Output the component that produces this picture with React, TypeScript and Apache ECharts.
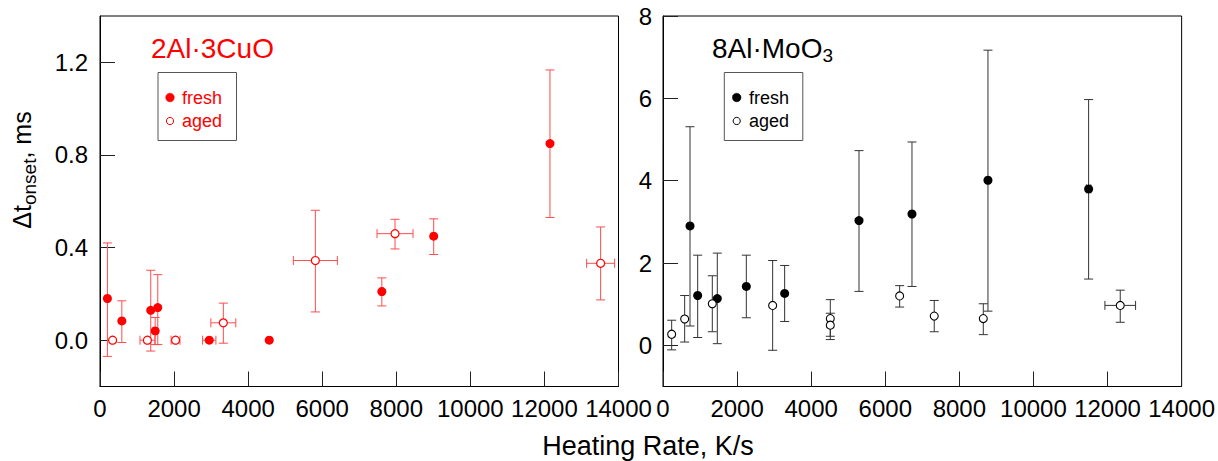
import React, { useEffect, useRef } from 'react';
import * as echarts from 'echarts';

// ---------- tick labels ----------
const rateTicks = [0, 2000, 4000, 6000, 8000, 10000, 12000, 14000];
const cuoTicks = [0, 0.4, 0.8, 1.2];
const mooTicks = [0, 2, 4, 6, 8];

// ---------- 2Al·3CuO, fresh ----------
const cuoFreshRate = [200, 590, 1370, 1560, 1490, 2950, 4570, 7610, 9010, 12150];
const cuoFreshDt = [0.18, 0.083, 0.129, 0.141, 0.04, 0, 0, 0.21, 0.449, 0.849];
const cuoFreshLow = [-0.07, -0.01, -0.047, -0.019, -0.019, 0, 0, 0.148, 0.37, 0.53];
const cuoFreshHigh = [0.42, 0.17, 0.302, 0.283, 0.098, 0, 0, 0.269, 0.524, 1.167];
const cuoFreshRateErr = [0, 0, 0, 0, 0, 180, 0, 40, 0, 0];

// ---------- 2Al·3CuO, aged ----------
const cuoAgedRate = [340, 1280, 2040, 3330, 5815, 7966, 13517];
const cuoAgedDt = [0, 0, 0, 0.075, 0.344, 0.46, 0.332];
const cuoAgedLow = [0, 0, 0, -0.013, 0.122, 0.394, 0.174];
const cuoAgedHigh = [0, 0, 0, 0.16, 0.561, 0.522, 0.489];
const cuoAgedRateErr = [0, 200, 120, 337, 594, 486, 378];

// ---------- 8Al·MoO3, fresh ----------
const mooFreshRate = [729, 936, 1466, 2249, 3284, 5291, 6721, 8772, 11489];
const mooFreshDt = [2.9, 1.21, 1.135, 1.43, 1.26, 3.03, 3.19, 4.01, 3.8];
const mooFreshLow = [0.47, 0.19, 0.04, 0.67, 0.58, 1.31, 1.43, 0.83, 1.61];
const mooFreshHigh = [5.31, 2.19, 2.24, 2.19, 1.94, 4.73, 4.94, 7.17, 5.97];
const mooFreshRateErr = [0, 0, 0, 0, 0, 0, 0, 0, 60];

// ---------- 8Al·MoO3, aged ----------
const mooAgedRate = [234, 585, 1331, 2960, 4516, 4516, 6388, 7322, 8646, 12343];
const mooAgedDt = [0.27, 0.64, 1.01, 0.97, 0.65, 0.49, 1.2, 0.71, 0.65, 0.97];
const mooAgedLow = [-0.11, 0.08, 0.33, -0.12, 0.14, 0.22, 0.93, 0.33, 0.26, 0.56];
const mooAgedHigh = [0.61, 1.21, 1.69, 2.06, 1.11, 0.78, 1.45, 1.09, 1.01, 1.34];
const mooAgedRateErr = [0, 0, 0, 0, 0, 0, 0, 0, 0, 414];

const FONT = "'Liberation Sans', Arial, Helvetica, sans-serif";
const RED = '#ff0000';
const RED_BAR = '#ff4d4d';
const BLACK = '#000000';
const BLACK_BAR = '#333333';

function rows(rate: number[], dt: number[], lo: number[], hi: number[], xe: number[]) {
  return rate.map((r, i) => [r, dt[i], lo[i], hi[i], xe[i]]);
}

function errorRenderer(color: string) {
  return (params: any, api: any) => {
    const x = api.value(0);
    const y = api.value(1);
    const lo = api.value(2);
    const hi = api.value(3);
    const xe = api.value(4);
    const c = api.coord([x, y]);
    const cap = 4.5;
    const style = { stroke: color, lineWidth: 1, fill: null };
    const children: any[] = [];
    if (hi > lo) {
      const pLo = api.coord([x, lo]);
      const pHi = api.coord([x, hi]);
      children.push({ type: 'line', shape: { x1: c[0], y1: pLo[1], x2: c[0], y2: pHi[1] }, style });
      children.push({ type: 'line', shape: { x1: c[0] - cap, y1: pLo[1], x2: c[0] + cap, y2: pLo[1] }, style });
      children.push({ type: 'line', shape: { x1: c[0] - cap, y1: pHi[1], x2: c[0] + cap, y2: pHi[1] }, style });
    }
    if (xe > 0) {
      const pL = api.coord([x - xe, y]);
      const pR = api.coord([x + xe, y]);
      children.push({ type: 'line', shape: { x1: pL[0], y1: c[1], x2: pR[0], y2: c[1] }, style });
      children.push({ type: 'line', shape: { x1: pL[0], y1: c[1] - cap, x2: pL[0], y2: c[1] + cap }, style });
      children.push({ type: 'line', shape: { x1: pR[0], y1: c[1] - cap, x2: pR[0], y2: c[1] + cap }, style });
    }
    return { type: 'group', children };
  };
}

function xAxisFor(gridIndex: number) {
  return {
    type: 'value',
    gridIndex,
    min: rateTicks[0],
    max: rateTicks[rateTicks.length - 1],
    interval: rateTicks[1] - rateTicks[0],
    axisLine: { show: true, onZero: false, lineStyle: { color: BLACK, width: 1 } },
    axisTick: { show: true, inside: true, length: 15, lineStyle: { color: '#222', width: 1 } },
    axisLabel: {
      show: true, margin: 10, fontSize: 24, color: BLACK, fontFamily: FONT,
      showMinLabel: true, showMaxLabel: true, hideOverlap: false,
      formatter: (v: number) => String(Math.round(v)),
    },
    splitLine: { show: false },
  };
}

function yAxisFor(gridIndex: number, min: number, max: number, ticks: number[], digits: number, margin: number) {
  return {
    type: 'value',
    gridIndex,
    min,
    max,
    axisLine: { show: true, onZero: false, lineStyle: { color: BLACK, width: 1 } },
    axisTick: { show: true, inside: true, length: 15, customValues: ticks, lineStyle: { color: '#222', width: 1 } },
    axisLabel: {
      show: true,
      margin,
      fontSize: 24,
      color: BLACK,
      fontFamily: FONT,
      customValues: ticks,
      formatter: (v: number) => v.toFixed(digits),
    },
    splitLine: { show: false },
  };
}

function legendBox(x: number, color: string, markerX: number, textX: number) {
  return [
    { type: 'rect', shape: { x: x, y: 72.5, width: 78.5, height: 68 }, style: { fill: '#fff', stroke: '#555', lineWidth: 1 }, z: 10 },
    { type: 'circle', shape: { cx: markerX, cy: 97.5, r: 4.3 }, style: { fill: color, stroke: color, lineWidth: 0.5 }, z: 11 },
    { type: 'circle', shape: { cx: markerX, cy: 121, r: 3.6 }, style: { fill: '#fff', stroke: color, lineWidth: 1 }, z: 11 },
    { type: 'text', x: textX, y: 97.5, style: { text: 'fresh', fill: color, font: `18px ${FONT}`, align: 'left', verticalAlign: 'middle' }, z: 11 },
    { type: 'text', x: textX, y: 121, style: { text: 'aged', fill: color, font: `18px ${FONT}`, align: 'left', verticalAlign: 'middle' }, z: 11 },
  ];
}

export default function App() {
  const ref = useRef<HTMLDivElement>(null);

  useEffect(() => {
    if (!ref.current) return;
    const chart = echarts.init(ref.current, null, { renderer: 'svg' });

    const option: any = {
      animation: false,
      backgroundColor: '#ffffff',
      textStyle: { fontFamily: FONT },
      grid: [
        { left: 100, top: 16, width: 518.5, height: 370.5, show: true, borderColor: BLACK, borderWidth: 1, backgroundColor: 'transparent' },
        { left: 663, top: 16, width: 518.7, height: 370.5, show: true, borderColor: BLACK, borderWidth: 1, backgroundColor: 'transparent' },
      ],
      xAxis: [xAxisFor(0), xAxisFor(1)],
      yAxis: [
        yAxisFor(0, -0.2, 1.4, cuoTicks, 1, 12),
        yAxisFor(1, -1, 8, mooTicks, 0, 11),
      ],
      series: [
        {
          type: 'custom', name: 'cuo-fresh-err', xAxisIndex: 0, yAxisIndex: 0, z: 2,
          renderItem: errorRenderer(RED_BAR), encode: { x: 0, y: 1 },
          data: rows(cuoFreshRate, cuoFreshDt, cuoFreshLow, cuoFreshHigh, cuoFreshRateErr),
        },
        {
          type: 'custom', name: 'cuo-aged-err', xAxisIndex: 0, yAxisIndex: 0, z: 2,
          renderItem: errorRenderer(RED_BAR), encode: { x: 0, y: 1 },
          data: rows(cuoAgedRate, cuoAgedDt, cuoAgedLow, cuoAgedHigh, cuoAgedRateErr),
        },
        {
          type: 'custom', name: 'moo-fresh-err', xAxisIndex: 1, yAxisIndex: 1, z: 2,
          renderItem: errorRenderer(BLACK_BAR), encode: { x: 0, y: 1 },
          data: rows(mooFreshRate, mooFreshDt, mooFreshLow, mooFreshHigh, mooFreshRateErr),
        },
        {
          type: 'custom', name: 'moo-aged-err', xAxisIndex: 1, yAxisIndex: 1, z: 2,
          renderItem: errorRenderer(BLACK_BAR), encode: { x: 0, y: 1 },
          data: rows(mooAgedRate, mooAgedDt, mooAgedLow, mooAgedHigh, mooAgedRateErr),
        },
        {
          type: 'scatter', name: 'fresh', xAxisIndex: 0, yAxisIndex: 0, z: 3,
          symbol: 'circle', symbolSize: 9,
          itemStyle: { color: RED, opacity: 1 },
          data: cuoFreshRate.map((r, i) => [r, cuoFreshDt[i]]),
        },
        {
          type: 'scatter', name: 'aged', xAxisIndex: 0, yAxisIndex: 0, z: 3,
          symbol: 'circle', symbolSize: 8,
          itemStyle: { color: '#ffffff', borderColor: RED, borderWidth: 1.2, opacity: 1 },
          data: cuoAgedRate.map((r, i) => [r, cuoAgedDt[i]]),
        },
        {
          type: 'scatter', name: 'fresh MoO3', xAxisIndex: 1, yAxisIndex: 1, z: 3,
          symbol: 'circle', symbolSize: 9,
          itemStyle: { color: BLACK, opacity: 1 },
          data: mooFreshRate.map((r, i) => [r, mooFreshDt[i]]),
        },
        {
          type: 'scatter', name: 'aged MoO3', xAxisIndex: 1, yAxisIndex: 1, z: 3,
          symbol: 'circle', symbolSize: 8,
          itemStyle: { color: '#ffffff', borderColor: BLACK, borderWidth: 1.1, opacity: 1 },
          data: mooAgedRate.map((r, i) => [r, mooAgedDt[i]]),
        },
      ],
      graphic: [
        // panel titles
        {
          type: 'text', x: 151, y: 48, z: 10,
          style: { text: '2Al·3CuO', fill: RED, font: `28px ${FONT}`, align: 'left', verticalAlign: 'middle' },
        },
        {
          type: 'text', x: 712, y: 48, z: 10,
          style: {
            text: '{m|8Al·MoO}{s|3}',
            fill: BLACK,
            align: 'left',
            verticalAlign: 'middle',
            rich: {
              m: { fontSize: 28, fontFamily: FONT, color: BLACK, lineHeight: 34, verticalAlign: 'middle' },
              s: { fontSize: 19, fontFamily: FONT, color: BLACK, lineHeight: 14, verticalAlign: 'bottom' },
            },
          },
        },
        ...legendBox(158, RED, 170, 182),
        ...legendBox(724.3, BLACK, 736.7, 749),
        // axis titles
        {
          type: 'text', x: 648, y: 446, z: 10,
          style: { text: 'Heating Rate, K/s', fill: BLACK, font: `27px ${FONT}`, align: 'center', verticalAlign: 'middle' },
        },
        {
          type: 'text', x: 22, y: 170, rotation: Math.PI / 2, z: 10,
          style: {
            text: '{m|Δt}{s|onset}{m|, ms}',
            fill: BLACK,
            align: 'center',
            verticalAlign: 'middle',
            rich: {
              m: { fontSize: 25, fontFamily: FONT, color: BLACK, lineHeight: 34, verticalAlign: 'middle' },
              s: { fontSize: 19, fontFamily: FONT, color: BLACK, lineHeight: 16, verticalAlign: 'bottom' },
            },
          },
        },
      ],
    };

    chart.setOption(option);
    return () => chart.dispose();
  }, []);

  return (
    <div
      ref={ref}
      style={{ position: 'absolute', left: 0, top: 0, width: 1218, height: 461, background: '#fff' }}
    />
  );
}
